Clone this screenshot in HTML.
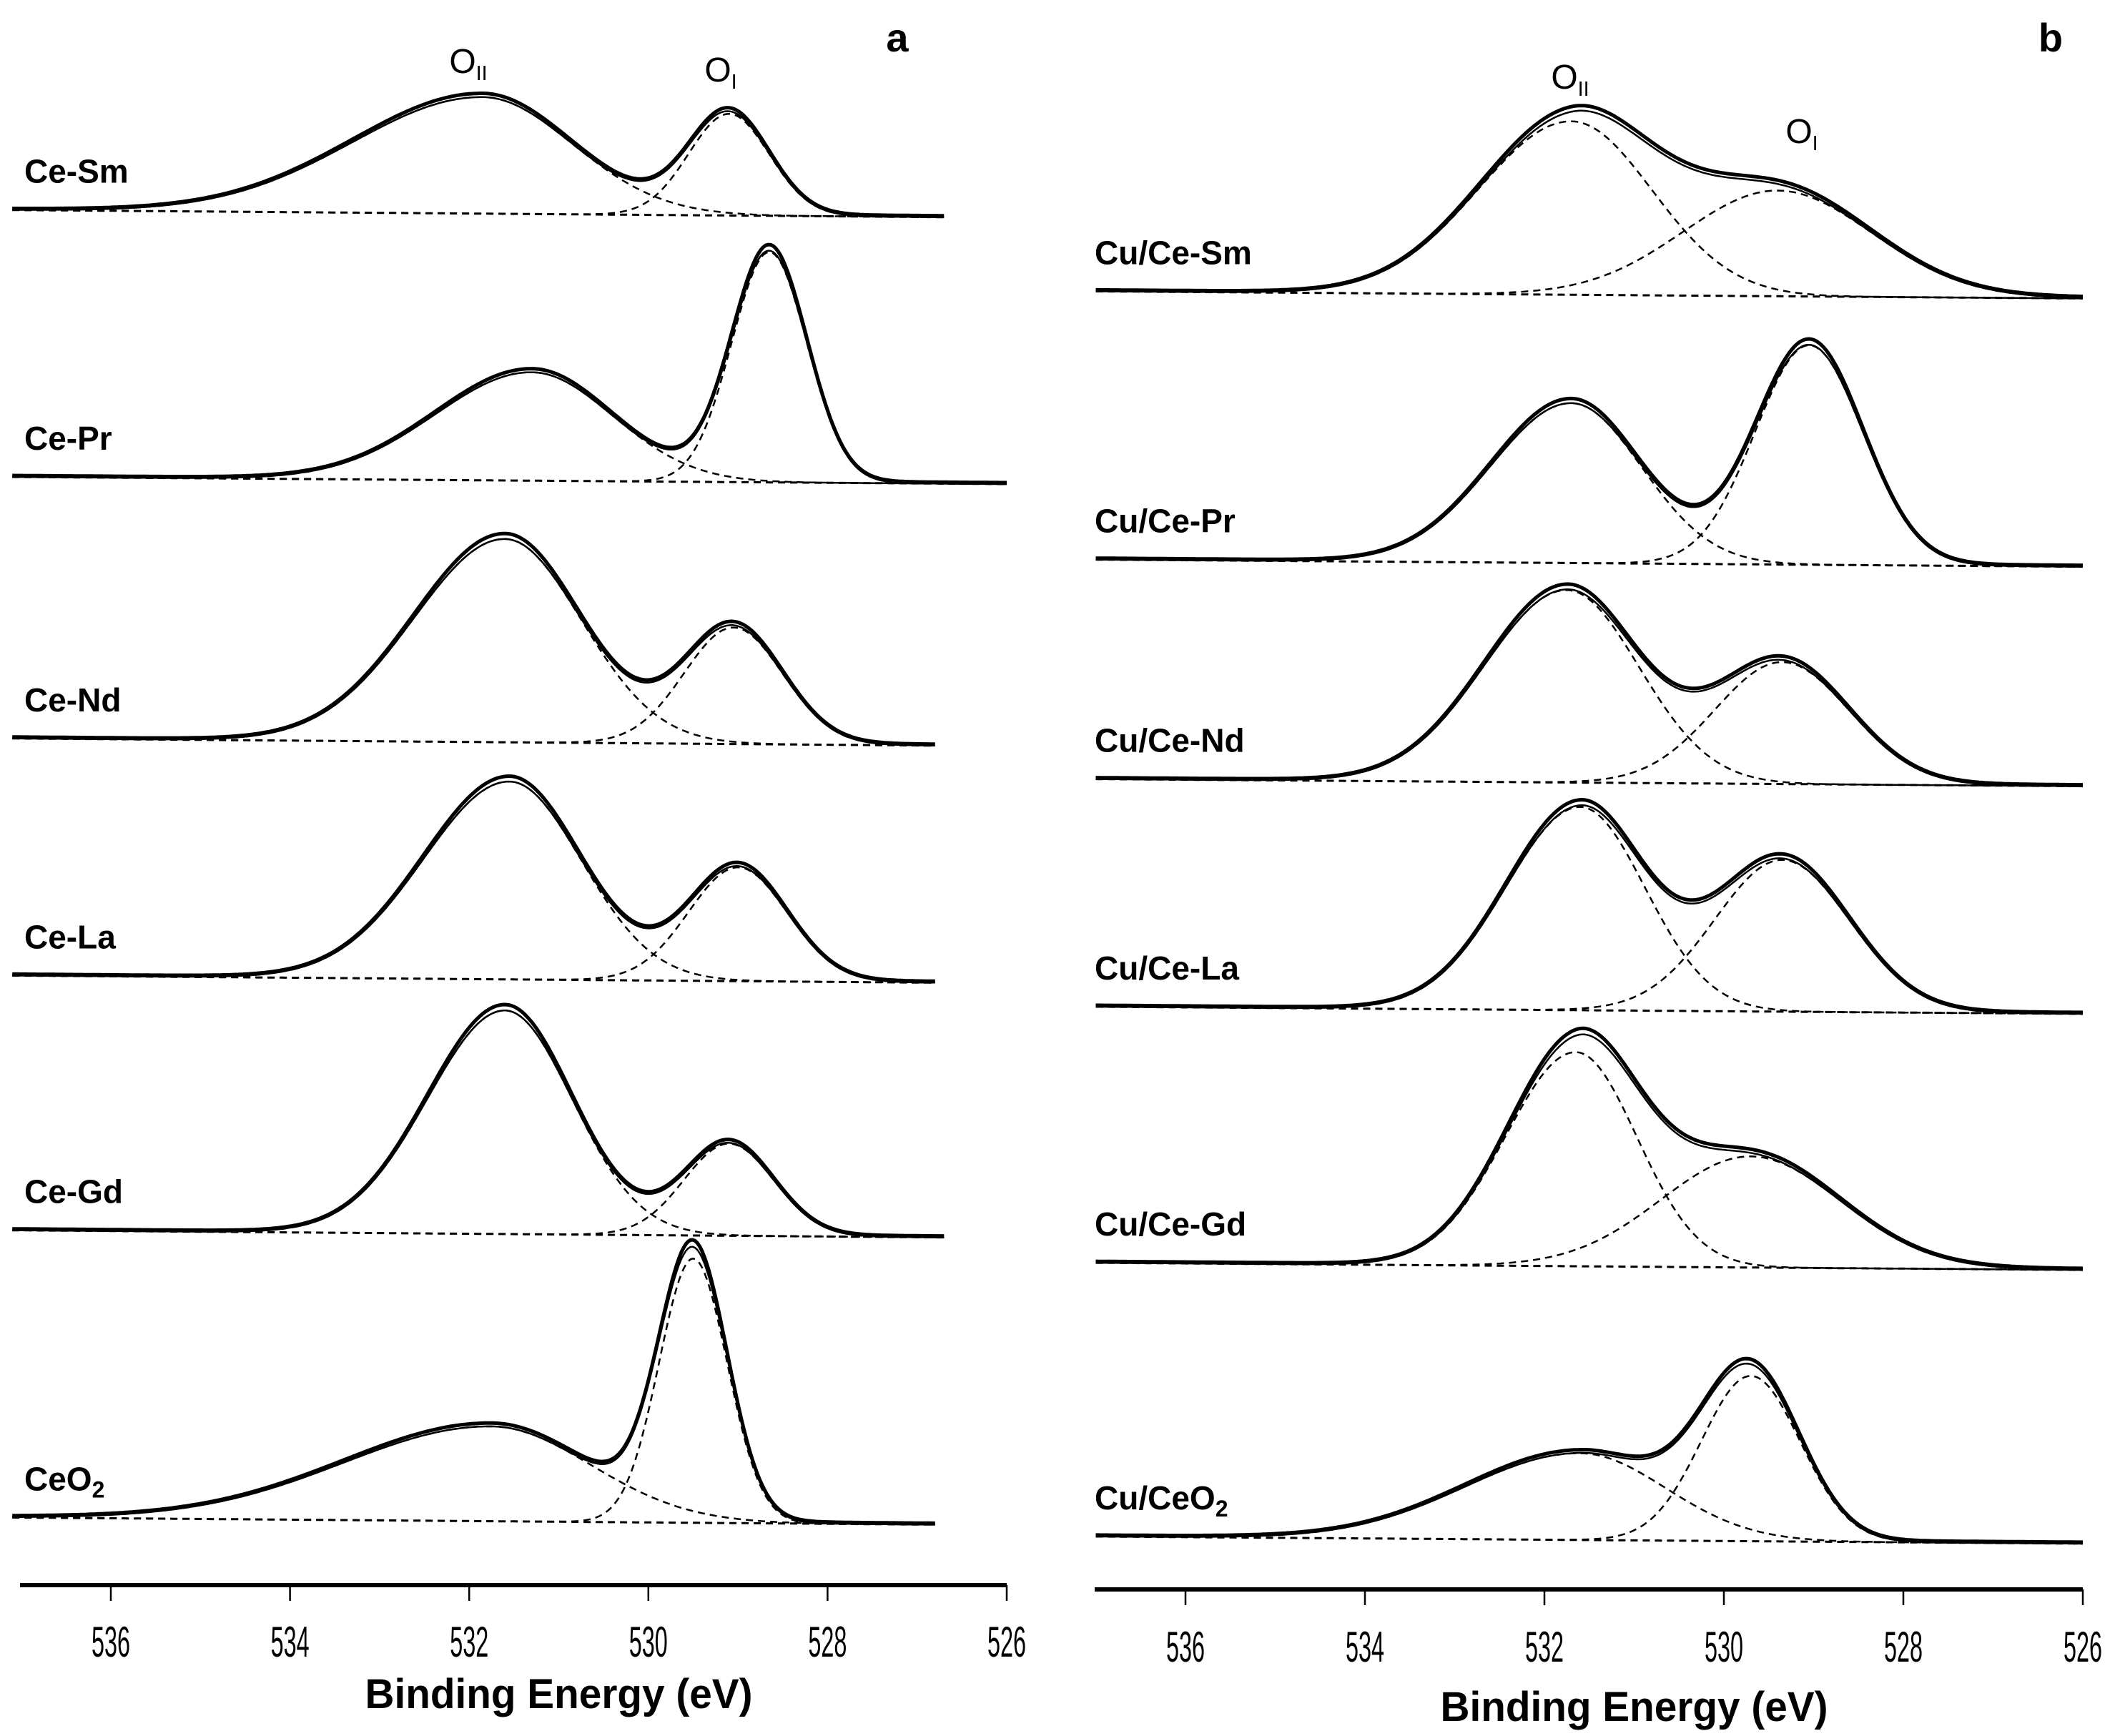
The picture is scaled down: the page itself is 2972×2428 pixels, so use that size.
<!DOCTYPE html>
<html><head><meta charset="utf-8">
<style>
html,body{margin:0;padding:0;background:#fff;}
svg{display:block;}
text{font-family:"Liberation Sans",sans-serif;fill:#000;}
</style></head>
<body>
<svg id="chart" width="2972" height="2428" viewBox="0 0 2972 2428" xmlns="http://www.w3.org/2000/svg"></svg>
<script>
// ---- data (intensity in arbitrary units, energies in eV) ----
const ticks = [536, 534, 532, 530, 528, 526];
const namesA = ["Ce-Sm","Ce-Pr","Ce-Nd","Ce-La","Ce-Gd","CeO2"];
const offsetsA = [155, 352, 545, 720, 908, 1120];
const o2CenterA = [531.85, 531.3, 531.6, 531.55, 531.6, 531.75];
const o2HeightA = [86, 80, 150, 146, 165, 70];
const o2SigmaA = [1.0, 0.9, 0.85, 0.8, 0.75, 1.1];
const o2TailA = [1.45, 1.2, 1.2, 1.2, 1.15, 1.5];
const o1CenterA = [529.1, 528.65, 529.05, 529.0, 529.1, 529.5];
const o1HeightA = [75, 170, 86, 84, 68, 195];
const o1SigmaA = [0.45, 0.42, 0.55, 0.55, 0.5, 0.38];
const endA = [526.7, 526.0, 526.8, 526.8, 526.7, 526.8];

const namesB = ["Cu/Ce-Sm","Cu/Ce-Pr","Cu/Ce-Nd","Cu/Ce-La","Cu/Ce-Gd","Cu/CeO2"];
const offsetsB = [215, 413, 575, 743, 932, 1134];
const o2CenterB = [531.7, 531.7, 531.75, 531.6, 531.65, 531.6];
const o2HeightB = [128, 118, 142, 150, 158, 64];
const o2SigmaB = [0.9, 0.78, 0.8, 0.72, 0.68, 0.95];
const o2TailB = [1.15, 1.15, 1.15, 1.15, 1.15, 1.35];
const o1CenterB = [529.4, 529.05, 529.35, 529.35, 529.7, 529.7];
const o1HeightB = [78, 162, 90, 112, 82, 122];
const o1SigmaB = [1.05, 0.6, 0.75, 0.75, 1.0, 0.55];

// ---- layout ----
const S = 1.895;
const NS = "http://www.w3.org/2000/svg";
const svg = document.getElementById('chart');
const panels = [
  {id:'a', x0:155, ppe:125.3, lineL:28, lineR:1408, axisY:2217, tickY:2295, titleY:2367, names:namesA, off:offsetsA, c2:o2CenterA,h2:o2HeightA,s2:o2SigmaA,t2:o2TailA,c1:o1CenterA,h1:o1HeightA,s1:o1SigmaA,end:endA,start:537.1,labelX:34},
  {id:'b', x0:1658, ppe:125.5, lineL:1531, lineR:2913, axisY:2223, tickY:2302, titleY:2385, names:namesB, off:offsetsB, c2:o2CenterB,h2:o2HeightB,s2:o2SigmaB,t2:o2TailB,c1:o1CenterB,h1:o1HeightB,s1:o1SigmaB,end:[526,526,526,526,526,526],start:537.0,labelX:1531}
];
function el(tag, attrs, parent){const e=document.createElementNS(NS,tag);for(const k in attrs)e.setAttribute(k,attrs[k]);(parent||svg).appendChild(e);return e;}
function g(e,c,s){return Math.exp(-0.5*Math.pow((e-c)/s,2));}

panels.forEach(p=>{
  const xOf = e => p.x0 + (536-e)*p.ppe;
  const grp = el('g',{});
  
  
  const ax = el('line',{x1:p.lineL,y1:p.axisY,x2:p.lineR,y2:p.axisY,stroke:'#000','stroke-width':6},grp);
  
  
  ticks.forEach(t=>{
    const tk = el('line',{x1:xOf(t),y1:p.axisY,x2:xOf(t),y2:p.axisY+22,stroke:'#000','stroke-width':2.5},grp);
    
    
    const tl = el('text',{x:xOf(t),y:p.tickY+22,'text-anchor':'middle','font-size':60,textLength:54,lengthAdjust:'spacingAndGlyphs'},grp);
    tl.textContent = t;
    
    
  });
  const ttl = el('text',{x:(xOf(536)+xOf(526))/2,y:p.titleY+22,'text-anchor':'middle','font-size':58,'font-weight':'bold',textLength:542,lengthAdjust:'spacingAndGlyphs'},grp);
  ttl.textContent = 'Binding Energy (eV)';
  
  

  p.names.forEach((nm,i)=>{
    const base = p.off[i]*S;
    const slope = 10;
    const bY = e => base + slope*((p.start-e)/(p.start-p.end[i]));
    const yOf = (e,h) => bY(e) - h*S;
    let dFit='',dD1='',dD2='',dBase='',dData='';
    const N=400;
    for(let k=0;k<=N;k++){
      const e = p.start - (p.start-p.end[i])*k/N;
      const x = xOf(e).toFixed(1);
      const s2 = e>p.c2[i] ? p.s2[i]*p.t2[i] : p.s2[i];
      const a2 = p.h2[i]*g(e,p.c2[i],s2);
      const a1 = p.h1[i]*g(e,p.c1[i],p.s1[i]);
      const cmd = k?'L':'M';
      dFit += cmd+x+','+yOf(e,a1+a2).toFixed(1);
      dData += cmd+x+','+(yOf(e,(a1+a2)*1.02)-2).toFixed(1);
      dD1 += cmd+x+','+yOf(e,a1).toFixed(1);
      dD2 += cmd+x+','+yOf(e,a2).toFixed(1);
      dBase += cmd+x+','+bY(e).toFixed(1);
    }
    const sg = el('g',{},grp);
    
    
    const pb = el('path',{d:dBase,fill:'none',stroke:'#000','stroke-width':3,'stroke-dasharray':'10 7'},sg);
    
    
    const p1 = el('path',{d:dD1,fill:'none',stroke:'#000','stroke-width':2.5,'stroke-dasharray':'10 7'},sg);
    
    
    const p2 = el('path',{d:dD2,fill:'none',stroke:'#000','stroke-width':2.5,'stroke-dasharray':'10 7'},sg);
    
    
    const pd = el('path',{d:dData,fill:'none',stroke:'#000','stroke-width':5},sg);
    
    
    const pf = el('path',{d:dFit,fill:'none',stroke:'#000','stroke-width':2.5},sg);
    
    
    const lb = el('text',{x:p.labelX,y:base-38,'font-size':46,'font-weight':'bold'},sg);
    if(nm.endsWith('O2')){
      lb.textContent = nm.slice(0,-1);
      const sub = el('tspan',{'font-size':32,dy:10},lb);
      sub.textContent='2';
    } else lb.textContent = nm;
    
    
  });
});

function addText(x,y,txt,size,bold,name,sub){
  const t = el('text',{x:x,y:y,'font-size':size,'font-weight':bold?'bold':'normal','text-anchor':'middle'});
  t.textContent = txt;
  if(sub){const s=el('tspan',{'font-size':size*0.6,dy:10},t);s.textContent=sub;}
  
  
}
addText(1255,72,'a',56,true,'panel-label-a');
addText(2868,72,'b',56,true,'panel-label-b');
addText(655,102,'O',48,false,'oii-peak-label','II');
addText(1008,114,'O',48,false,'oi-peak-label','I');
addText(2196,124,'O',48,false,'oii-peak-label-b','II');
addText(2520,200,'O',48,false,'oi-peak-label-b','I');
</script>
</body></html>
